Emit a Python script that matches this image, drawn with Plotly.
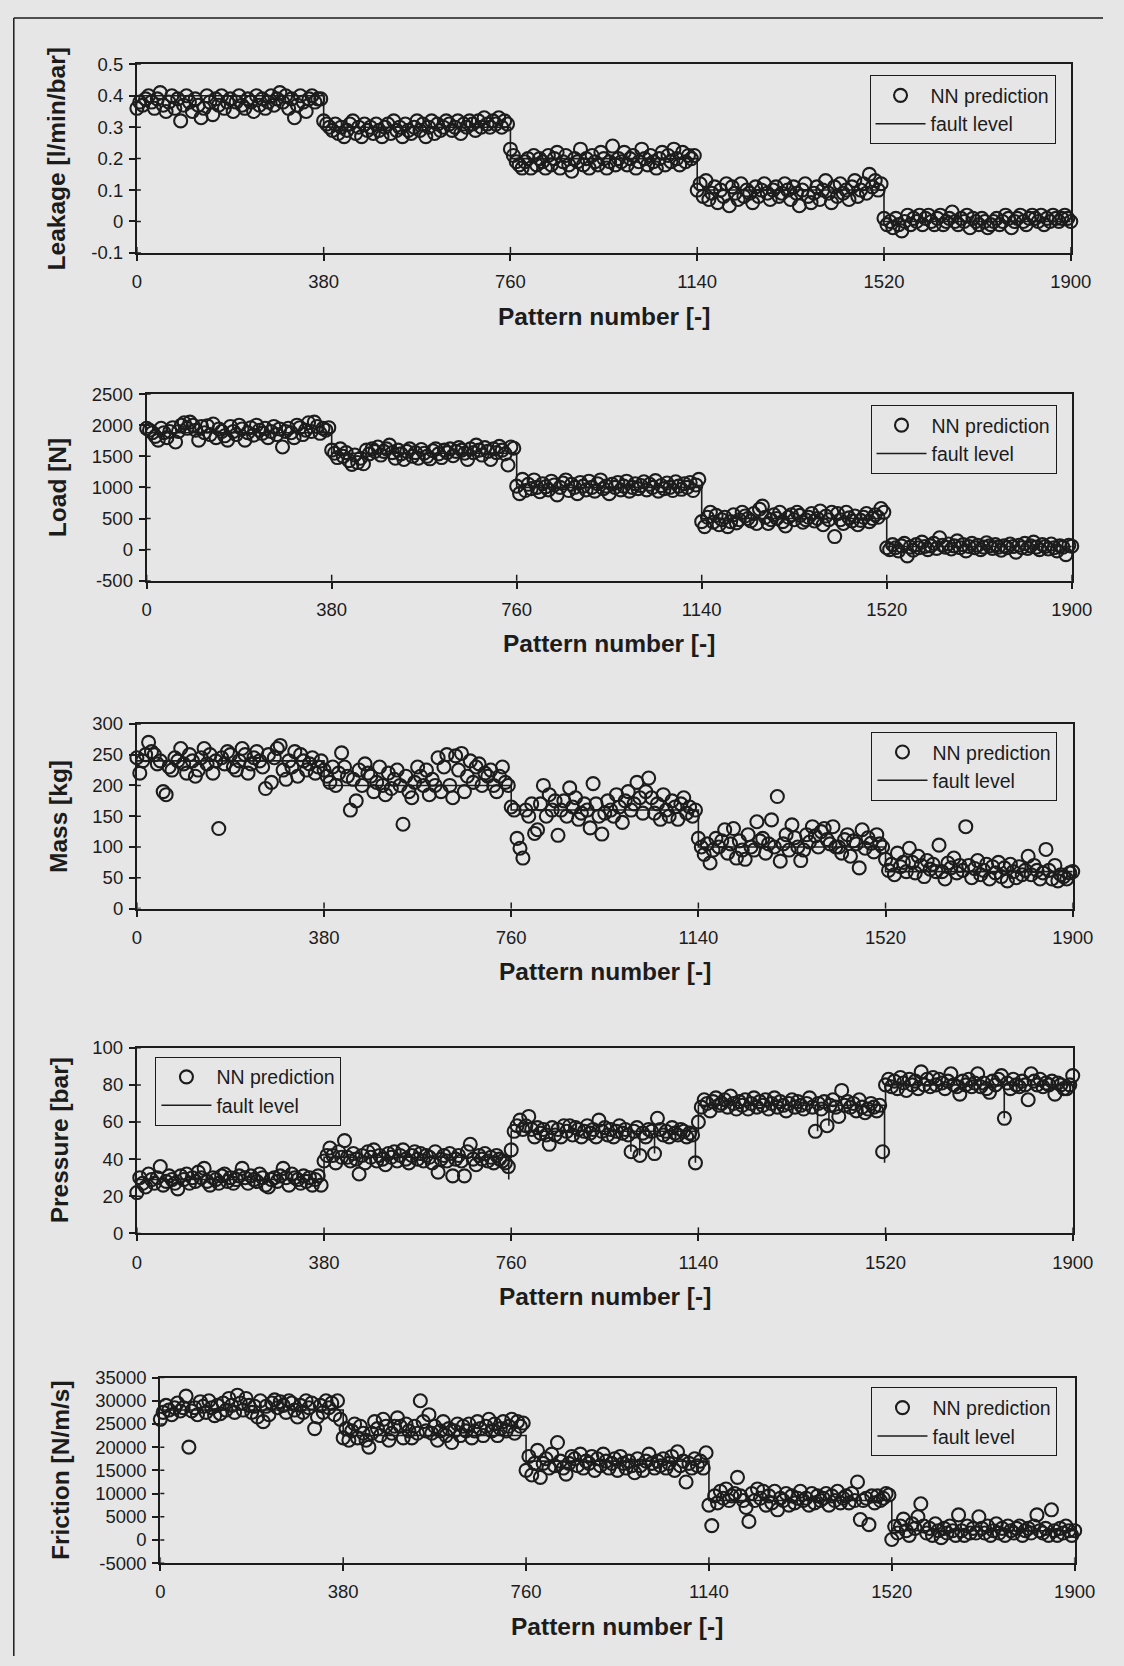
import plotly.graph_objects as go

W, H = 1124, 1666
INK = "#1c1c1c"
PAPER = "#e6e6e6"
FONT = "Liberation Sans, Arial, Helvetica, sans-serif"

# Pattern-number axis shared by all five panels
PATTERN_TICKS = [0, 380, 760, 1140, 1520, 1900]
PATTERN_TICK_TEXT = ["0", "380", "760", "1140", "1520", "1900"]
SEGMENT_STARTS = [0, 380, 760, 1140, 1520]
SEGMENT_WIDTH = 380

# ---------------- Leakage [l/min/bar] ----------------
LEAK_PRED = [
    [0.36, 0.38, 0.37, 0.39, 0.40, 0.38, 0.36, 0.39, 0.41, 0.37, 0.35, 0.38, 0.40, 0.36, 0.39, 0.32,
     0.37, 0.40, 0.38, 0.35, 0.39, 0.37, 0.33, 0.36, 0.40, 0.38, 0.34, 0.39, 0.37, 0.40, 0.36, 0.38,
     0.39, 0.35, 0.38, 0.40, 0.37, 0.36, 0.39, 0.38, 0.35, 0.40, 0.37, 0.39, 0.36, 0.38, 0.40, 0.37,
     0.39, 0.41, 0.38, 0.40, 0.36, 0.39, 0.33, 0.37, 0.40, 0.38, 0.35, 0.39, 0.40, 0.38, 0.39, 0.39],
    [0.32, 0.31, 0.30, 0.29, 0.31, 0.28, 0.30, 0.27, 0.29, 0.31, 0.32, 0.28, 0.30, 0.27, 0.31, 0.29,
     0.30, 0.28, 0.31, 0.29, 0.27, 0.30, 0.31, 0.28, 0.32, 0.29, 0.30, 0.27, 0.31, 0.29, 0.28, 0.30,
     0.32, 0.29, 0.31, 0.27, 0.30, 0.32, 0.28, 0.31, 0.29, 0.30, 0.32, 0.31, 0.29, 0.30, 0.32, 0.28,
     0.31, 0.30, 0.32, 0.31, 0.29, 0.32, 0.30, 0.33, 0.31, 0.30, 0.32, 0.31, 0.33, 0.30, 0.32, 0.31],
    [0.23, 0.21, 0.19, 0.18, 0.17, 0.19, 0.20, 0.17, 0.21, 0.18, 0.20, 0.19, 0.17, 0.21, 0.18, 0.20,
     0.22, 0.17, 0.19, 0.21, 0.18, 0.16, 0.20, 0.19, 0.23, 0.18, 0.20, 0.17, 0.21, 0.19, 0.18, 0.22,
     0.20, 0.17, 0.19, 0.24, 0.18, 0.20, 0.19, 0.22, 0.18, 0.20, 0.21, 0.17, 0.19, 0.23, 0.20, 0.18,
     0.21, 0.19, 0.17, 0.20, 0.22, 0.18, 0.21, 0.19, 0.23, 0.20, 0.18, 0.22, 0.19, 0.21, 0.20, 0.21],
    [0.10, 0.12, 0.08, 0.13, 0.07, 0.09, 0.11, 0.06, 0.10, 0.08, 0.12, 0.05, 0.11, 0.09, 0.07, 0.12,
     0.08, 0.10, 0.09, 0.06, 0.11, 0.08, 0.10, 0.12, 0.09, 0.07, 0.10, 0.11, 0.08, 0.09, 0.12, 0.10,
     0.07, 0.11, 0.09, 0.05, 0.10, 0.12, 0.08, 0.06, 0.09, 0.11, 0.07, 0.10, 0.13, 0.09, 0.06, 0.11,
     0.08, 0.12, 0.09, 0.10, 0.07, 0.11, 0.13, 0.08, 0.10, 0.12, 0.09, 0.15, 0.11, 0.13, 0.10, 0.12],
    [0.01, -0.01, 0.00, -0.02, 0.01, -0.01, -0.03, 0.00, 0.02, -0.01, 0.01, 0.00, 0.02, -0.01, 0.01, 0.02,
     0.00, -0.01, 0.01, 0.02, -0.01, 0.00, 0.01, 0.03, 0.00, -0.01, 0.01, 0.00, 0.02, -0.02, 0.01, 0.00,
     -0.01, 0.01, 0.00, -0.02, -0.01, 0.00, 0.01, -0.01, 0.00, 0.02, 0.01, -0.02, 0.00, 0.01, 0.02, 0.00,
     -0.01, 0.01, 0.02, 0.01, 0.00, 0.02, -0.01, 0.01, 0.00, 0.02, 0.01, 0.00, 0.01, 0.02, 0.01, 0.00],
]
LEAK_LEVEL = [0.40, 0.30, 0.20, 0.10, 0.00]
LEAK_TICKS = [-0.1, 0, 0.1, 0.2, 0.3, 0.4, 0.5]
LEAK_TICK_TEXT = ["-0.1", "0", "0.1", "0.2", "0.3", "0.4", "0.5"]

# ---------------- Load [N] ----------------
LOAD_PRED = [
    [1950, 1920, 1880, 1820, 1760, 1950, 1880, 1800, 1900, 1960, 1730, 1900, 2000, 2040, 1950, 2050,
     2000, 1920, 1760, 1980, 1880, 1990, 1850, 2020, 1800, 1940, 1900, 1830, 1760, 1980, 1900, 1850,
     2000, 1940, 1760, 1880, 1960, 1840, 2000, 1920, 1870, 1950, 1800, 1900, 1980, 1850, 1940, 1650,
     1900, 1950, 1880, 1800, 2000, 1960, 1850, 1920, 2040, 1900, 2050, 1980, 1870, 1950, 1920, 1960],
    [1600, 1550, 1480, 1620, 1500, 1560, 1430, 1370, 1520, 1400, 1470, 1380, 1600, 1540, 1620, 1580,
     1650, 1520, 1580, 1620, 1680, 1560, 1470, 1600, 1540, 1450, 1580, 1620, 1500, 1560, 1470, 1610,
     1550, 1500, 1460, 1590, 1620, 1540, 1480, 1600, 1560, 1620, 1510, 1580, 1640, 1600, 1550, 1450,
     1620, 1560, 1680, 1600, 1520, 1640, 1580, 1450, 1620, 1560, 1660, 1600, 1540, 1360, 1650, 1630],
    [1020, 900, 1130, 950, 1050, 980, 1120, 1000, 930, 1060, 1010, 960, 1100, 1040, 880, 1000,
     1070, 1120, 950, 1050, 1000, 900, 1080, 1020, 960, 1100, 1000, 940, 1060, 1120, 980, 1020,
     900, 1050, 1000, 1080, 960, 1020, 1100, 940, 1000, 1060, 980, 1030, 1090, 960, 1050, 1000,
     1110, 940, 1030, 980, 1070, 1000, 950, 1090, 1020, 970, 1060, 1000, 1080, 950, 1040, 1130],
    [450, 370, 520, 600, 440, 550, 400, 480, 520, 370, 450, 560, 430, 480, 600, 540,
     500, 460, 580, 420, 650, 700, 520, 420, 480, 560, 500, 600, 450, 380, 520, 560,
     480, 600, 550, 440, 480, 520, 580, 460, 500, 620, 400, 540, 480, 600, 210, 580,
     480, 420, 600, 510, 460, 540, 400, 470, 520, 580, 450, 500, 560, 520, 660, 600],
    [30, 0, 80, 30, -20, 60, 100, -100, 40, -10, 80, 30, 120, 50, 0, 60,
     100, 20, 190, 70, 40, 90, 10, 60, 140, 30, 80, -20, 50, 100, 30, 70,
     0, 40, 110, 60, 20, 80, 40, -10, 60, 30, 90, 50, -40, 70, 30, 100,
     20, 60, 120, 40, 0, 80, 50, 10, 90, 30, -20, 60, 40, -80, 70, 55],
]
LOAD_LEVEL = [1880, 1550, 1000, 500, 50]
LOAD_TICKS = [-500, 0, 500, 1000, 1500, 2000, 2500]
LOAD_TICK_TEXT = ["-500", "0", "500", "1000", "1500", "2000", "2500"]

# ---------------- Mass [kg] ----------------
MASS_PRED = [
    [245, 220, 240, 250, 270, 255, 250, 235, 240, 190, 185, 230, 225, 245, 240, 260,
     235, 220, 250, 240, 215, 225, 245, 260, 235, 250, 220, 240, 130, 245, 235, 255,
     250, 230, 225, 240, 260, 250, 220, 235, 245, 255, 240, 230, 195, 250, 205, 245,
     260, 265, 225, 210, 240, 230, 255, 215, 250, 240, 225, 235, 245, 220, 230, 240],
    [225, 215, 205, 230, 200, 220, 253, 230, 215, 160, 210, 175, 225, 200, 235, 220,
     215, 190, 205, 230, 200, 185, 220, 195, 210, 225, 200, 137, 215, 190, 180, 205,
     230, 215, 200, 225, 185, 210, 200, 245, 190, 230, 250, 200, 180, 248, 225, 252,
     190, 215, 240, 205, 230, 235, 200, 220, 215, 225, 200, 190, 215, 230, 205, 200],
    [165, 160, 114, 98, 82, 160, 150, 170, 122, 128, 170, 200, 150, 185, 160, 175,
     119, 160, 175, 150, 196, 165, 180, 145, 155, 170, 160, 131, 203, 170, 150, 121,
     155, 175, 160, 150, 185, 165, 140, 175, 190, 160, 170, 205, 180, 155, 190, 212,
     180, 155, 170, 145, 185, 160, 150, 175, 165, 145, 170, 180, 155, 165, 150, 160],
    [114, 100, 88, 105, 74, 95, 114, 100, 110, 128, 90, 105, 130, 82, 110, 95,
     80, 120, 100, 95, 141, 110, 114, 90, 105, 144, 100, 182, 77, 105, 120, 95,
     136, 115, 100, 78, 95, 120, 108, 133, 118, 100, 125, 130, 112, 105, 133, 100,
     100, 90, 112, 120, 85, 110, 105, 66, 128, 98, 115, 106, 92, 120, 105, 100],
    [80, 62, 72, 55, 90, 68, 75, 60, 98, 75, 58, 85, 70, 52, 78, 64,
     72, 60, 103, 60, 48, 74, 66, 82, 58, 70, 62, 133, 70, 50, 65, 78,
     55, 62, 72, 48, 68, 58, 75, 52, 66, 45, 72, 60, 50, 68, 55, 62,
     85, 55, 70, 62, 48, 58, 96, 62, 48, 70, 45, 55, 52, 48, 58, 60],
]
MASS_LEVEL = [240, 200, 160, 100, 60]
MASS_TICKS = [0, 50, 100, 150, 200, 250, 300]
MASS_TICK_TEXT = ["0", "50", "100", "150", "200", "250", "300"]

# ---------------- Pressure [bar] ----------------
PRESS_PRED = [
    [22, 30, 27, 25, 32, 29, 27, 30, 36, 26, 28, 31, 29, 27, 24, 31,
     29, 32, 27, 30, 28, 33, 30, 35, 28, 26, 30, 29, 27, 31, 32, 28,
     30, 27, 29, 31, 35, 30, 27, 31, 29, 28, 32, 30, 26, 25, 29, 30,
     28, 31, 35, 30, 26, 32, 30, 29, 27, 31, 28, 30, 26, 29, 31, 26],
    [39, 42, 46, 42, 38, 44, 41, 50, 41, 39, 43, 40, 32, 42, 38, 44,
     41, 45, 39, 42, 40, 37, 43, 41, 44, 39, 42, 45, 40, 38, 42, 44,
     40, 43, 39, 42, 41, 38, 44, 33, 40, 42, 39, 43, 31, 40, 42, 39,
     31, 44, 48, 40, 37, 42, 40, 43, 39, 41, 38, 42, 40, 39, 38, 36],
    [45, 55, 58, 61, 56, 58, 63, 56, 52, 57, 54, 56, 53, 48, 57, 53,
     56, 52, 58, 55, 58, 53, 57, 56, 52, 55, 58, 54, 56, 52, 61, 55,
     57, 53, 56, 52, 55, 58, 54, 56, 53, 44, 55, 57, 42, 54, 52, 56,
     55, 43, 62, 56, 53, 55, 52, 57, 54, 53, 56, 55, 52, 54, 53, 38],
    [60, 68, 72, 70, 66, 71, 73, 69, 70, 72, 68, 74, 70, 67, 71, 69,
     72, 67, 70, 73, 68, 71, 69, 72, 67, 70, 73, 68, 71, 69, 66, 70,
     72, 68, 71, 69, 67, 70, 73, 68, 55, 70, 67, 71, 58, 69, 72, 68,
     63, 77, 69, 71, 68, 70, 66, 72, 68, 65, 67, 70, 68, 66, 69, 44],
    [80, 83, 79, 82, 78, 84, 81, 77, 83, 80, 82, 78, 87, 80, 83, 79,
     84, 80, 83, 81, 78, 82, 86, 80, 79, 75, 82, 80, 83, 79, 81, 86,
     79, 81, 78, 76, 82, 80, 83, 85, 62, 81, 78, 83, 80, 79, 82, 80,
     72, 86, 82, 80, 83, 79, 81, 80, 82, 75, 81, 80, 78, 78, 80, 85],
]
PRESS_LEVEL = [29, 41, 55, 69, 80]
# short transients in the measured pressure level
PRESS_DIP_X = [755, 1003, 1021, 1051, 1134, 1382, 1405, 1518, 1761]
PRESS_DIP_Y = [29, 44, 42, 43, 38, 55, 58, 38, 62]
PRESS_TICKS = [0, 20, 40, 60, 80, 100]
PRESS_TICK_TEXT = ["0", "20", "40", "60", "80", "100"]

# ---------------- Friction [N/m/s] ----------------
FRIC_PRED = [
    [26000, 27500, 29000, 28000, 27000, 28500, 29500, 27800, 28500, 31000, 20000, 27800, 28500, 27000, 29800, 28800,
     27500, 30000, 28500, 26800, 29000, 27200, 29500, 28000, 30500, 29000, 27500, 31200, 29500, 28000, 30500, 29000,
     27500, 28800, 26500, 30000, 25500, 28800, 27000, 29500, 30200, 28500, 29800, 29000, 27500, 30000, 29500, 28000,
     26500, 29000, 27500, 30000, 28500, 29500, 24000, 26500, 29000, 27500, 30000, 28500, 29500, 27000, 30000, 26000],
    [22000, 24000, 21500, 23500, 25000, 22000, 24500, 23000, 21500, 20000, 23000, 25500, 24000, 22500, 26000, 24500,
     21500, 23000, 24500, 26300, 24500, 22000, 25000, 23500, 22000, 24500, 23000, 30000, 25500, 23500, 27000, 23000,
     24500, 21500, 23500, 25500, 22500, 24000, 21000, 23500, 25000, 22500, 24500, 23500, 25000, 22000, 23500, 25500,
     24000, 22500, 24500, 26000, 23500, 25000, 22500, 24000, 25500, 23500, 24500, 26000, 23000, 25500, 24500, 25200],
    [15000, 18000, 14000, 16500, 19300, 13500, 16500, 17500, 15500, 18500, 16000, 21000, 17000, 15500, 14200, 16500,
     18000, 17500, 16000, 18500, 15500, 17000, 16500, 18000, 15000, 17500, 16000, 18500, 17000, 15500, 16500, 17500,
     15000, 18000, 16500, 15500, 17000, 16000, 14500, 17500, 16000, 15000, 17000, 18500, 16500, 15500, 17000, 16000,
     17500, 15500, 16500, 18000, 15000, 19000, 16000, 17000, 12500, 16500, 15500, 17500, 16000, 17000, 15500, 18800],
    [7500, 3100, 9500, 8000, 10500, 9000, 11000, 8500, 9500, 10000, 13500, 9500, 8500, 7000, 4000, 10000,
     8500, 11000, 9000, 10500, 7500, 9500, 8000, 10500, 6500, 9000, 8500, 10000, 7500, 9500, 8000, 9000,
     10500, 8500, 9000, 7500, 10000, 8000, 9500, 8500, 9000, 10000, 7500, 9500, 8500, 10500, 8000, 9000,
     9500, 8000, 10000, 8500, 12500, 4400, 8500, 9000, 3300, 9500, 8000, 9500, 8500, 9000, 10000, 9700],
    [100, 2900, 1500, 3000, 4500, 2000, 1000, 3500, 2500, 5000, 7800, 3000, 1500, 2500, 1000, 3500,
     2000, 500, 2500, 1500, 3000, 2000, 1000, 5400, 2000, 1000, 3000, 1500, 2500, 1500, 5000, 2500,
     1500, 3000, 1000, 2000, 3500, 1500, 2500, 1000, 3000, 2000, 1500, 2500, 3000, 1000, 2000, 2500,
     1500, 3000, 5400, 2000, 1500, 2500, 1000, 6500, 2000, 1000, 2500, 1500, 3000, 2000, 1000, 2000],
]
FRIC_LEVEL = [28000, 22500, 17000, 8500, 2000]
FRIC_TICKS = [-5000, 0, 5000, 10000, 15000, 20000, 25000, 30000, 35000]
FRIC_TICK_TEXT = ["-5000", "0", "5000", "10000", "15000", "20000", "25000", "30000", "35000"]


def sample_positions(segments):
    """Pattern numbers of the network outputs, evenly spread over each fault segment."""
    xs, ys = [], []
    last = len(segments) - 1
    for k, (start, seg) in enumerate(zip(SEGMENT_STARTS, segments)):
        n = len(seg) - 1 if k == last else len(seg)
        step = SEGMENT_WIDTH / n
        xs += [start + i * step for i in range(len(seg))]
        ys += list(seg)
    return xs, ys


def fault_path(levels, dip_x=(), dip_y=()):
    """Step line of the imposed fault level, with optional short dips."""
    dips = sorted(zip(dip_x, dip_y))
    xs, ys = [], []
    for start, lev in zip(SEGMENT_STARTS, levels):
        end = start + SEGMENT_WIDTH
        xs.append(start)
        ys.append(lev)
        for dx, dy in dips:
            if start <= dx < end:
                xs += [dx, dx, dx]
                ys += [lev, dy, lev]
        xs.append(end)
        ys.append(lev)
    return xs, ys


# panel layout in page pixels: (left, right, top, bottom), legend top-left corner
PANELS = [
    dict(title="Leakage [l/min/bar]", pred=LEAK_PRED, level=LEAK_LEVEL, ticks=LEAK_TICKS,
         text=LEAK_TICK_TEXT, box=(135, 1091, 54, 245), legend_at=(885, 65), ytitle_x=53),
    dict(title="Load [N]", pred=LOAD_PRED, level=LOAD_LEVEL, ticks=LOAD_TICKS,
         text=LOAD_TICK_TEXT, box=(145, 1092, 388, 577), legend_at=(886, 399), ytitle_x=54),
    dict(title="Mass [kg]", pred=MASS_PRED, level=MASS_LEVEL, ticks=MASS_TICKS,
         text=MASS_TICK_TEXT, box=(135, 1093, 722, 909), legend_at=(887, 730), ytitle_x=54),
    dict(title="Pressure [bar]", pred=PRESS_PRED, level=PRESS_LEVEL, ticks=PRESS_TICKS,
         text=PRESS_TICK_TEXT, box=(135, 1093, 1050, 1238), legend_at=(154, 1059), ytitle_x=56,
         dips=(PRESS_DIP_X, PRESS_DIP_Y)),
    dict(title="Friction [N/m/s]", pred=FRIC_PRED, level=FRIC_LEVEL, ticks=FRIC_TICKS,
         text=FRIC_TICK_TEXT, box=(159, 1095, 1384, 1572), legend_at=(887, 1394), ytitle_x=57),
]

fig = go.Figure()
layout = dict(
    width=W, height=H,
    margin=dict(l=0, r=0, t=0, b=0),
    paper_bgcolor=PAPER, plot_bgcolor=PAPER,
    font=dict(family=FONT, color=INK, size=18),
    showlegend=True,
)
shapes, annotations = [], []

for k, p in enumerate(PANELS):
    n = "" if k == 0 else str(k + 1)
    xr, yr = "x" + n, "y" + n
    leg = "legend" + n
    left, right, top, bottom = p["box"]

    px, py = sample_positions(p["pred"])
    fig.add_trace(go.Scatter(
        x=px, y=py, mode="markers", name="NN prediction", legend=leg,
        xaxis=xr, yaxis=yr, cliponaxis=False,
        marker=dict(symbol="circle-open", size=13, color=INK, line=dict(width=2.1)),
    ))
    dx, dy = p.get("dips", ((), ()))
    lx, ly = fault_path(p["level"], dx, dy)
    fig.add_trace(go.Scatter(
        x=lx, y=ly, mode="lines", name="fault level", legend=leg,
        xaxis=xr, yaxis=yr, cliponaxis=False,
        line=dict(color=INK, width=1.6),
    ))

    axis_common = dict(
        showline=True, linecolor=INK, linewidth=2, mirror=True,
        showgrid=False, zeroline=False,
        ticks="outside", ticklen=6, tickwidth=1.5, tickcolor=INK,
        tickfont=dict(size=18.5, color=INK, family=FONT),
        tickmode="array",
    )
    layout["xaxis" + n] = dict(
        axis_common, domain=[left / W, right / W], anchor=yr,
        range=[0, 1900], tickvals=PATTERN_TICKS, ticktext=PATTERN_TICK_TEXT,
        ticklabelstandoff=5,
    )
    layout["yaxis" + n] = dict(
        axis_common, domain=[1 - bottom / H, 1 - top / H], anchor=xr,
        range=[p["ticks"][0], p["ticks"][-1]], tickvals=p["ticks"], ticktext=p["text"],
        ticklabelstandoff=2,
    )

    # inner half of the crossing tick marks
    for v in p["ticks"]:
        shapes.append(dict(type="line", xref=xr + " domain", xsizemode="pixel", xanchor=0,
                           x0=0, x1=4, yref=yr, y0=v, y1=v,
                           line=dict(color=INK, width=1.5)))
    for v in PATTERN_TICKS:
        shapes.append(dict(type="line", yref=yr + " domain", ysizemode="pixel", yanchor=0,
                           y0=0, y1=6, xref=xr, x0=v, x1=v,
                           line=dict(color=INK, width=1.5)))

    # axis titles
    annotations.append(dict(
        text="<b>Pattern number [-]</b>", xref="paper", yref="paper",
        x=(left + right) / 2 / W, y=1 - (bottom + 64) / H,
        xanchor="center", yanchor="middle", showarrow=False,
        font=dict(size=24.5, color=INK, family=FONT),
    ))
    annotations.append(dict(
        text="<b>" + p["title"] + "</b>", xref="paper", yref="paper",
        x=p["ytitle_x"] / W, y=1 - (top + bottom) / 2 / H, textangle=-90,
        xanchor="center", yanchor="middle", showarrow=False,
        font=dict(size=24.5, color=INK, family=FONT),
    ))

    lgx, lgy = p["legend_at"]
    layout[leg] = dict(
        x=lgx / W, y=1 - lgy / H, xanchor="left", yanchor="top",
        bgcolor="rgba(0,0,0,0)", bordercolor=INK, borderwidth=1,
        font=dict(size=19.5, color=INK, family=FONT),
        itemwidth=50, tracegroupgap=0,
    )

# page frame: left and top rules of the figure border
shapes.append(dict(type="line", xref="paper", yref="paper",
                   x0=9 / W, x1=9 / W, y0=0, y1=1 - 7 / H,
                   line=dict(color=INK, width=1.5)))
shapes.append(dict(type="line", xref="paper", yref="paper",
                   x0=9 / W, x1=1, y0=1 - 7 / H, y1=1 - 7 / H,
                   line=dict(color=INK, width=1.5)))

layout["shapes"] = shapes
layout["annotations"] = annotations
fig.update_layout(**layout)
fig.write_html("out.html")
